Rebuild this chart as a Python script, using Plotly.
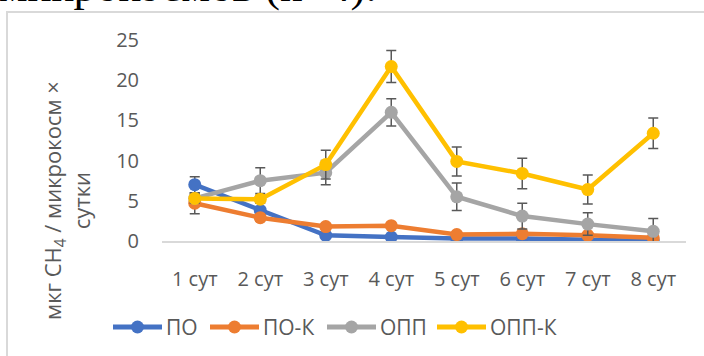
import plotly.graph_objects as go

# Days of observation
days = ["1 сут", "2 сут", "3 сут", "4 сут", "5 сут", "6 сут", "7 сут", "8 сут"]

# Methane emission, мкг CH4 / микрокосм × сутки (mean and error)
po = [7.0, 3.8, 0.7, 0.5, 0.3, 0.3, 0.2, 0.0]
po_err = [1.0, 0.4, 0.3, 0.2, 0.2, 0.2, 0.2, 0.2]

po_k = [4.7, 2.9, 1.8, 1.9, 0.8, 0.9, 0.7, 0.4]
po_k_err = [1.3, 0.4, 0.3, 0.3, 0.3, 0.3, 0.3, 0.3]

opp = [5.3, 7.5, 8.5, 16.0, 5.5, 3.1, 2.1, 1.2]
opp_err = [0.6, 1.6, 1.5, 1.7, 1.7, 1.6, 1.4, 1.6]

opp_k = [5.3, 5.2, 9.5, 21.7, 9.9, 8.4, 6.4, 13.4]
opp_k_err = [0.5, 0.5, 1.8, 2.0, 1.8, 1.9, 1.8, 1.9]

series_names = ["ПО", "ПО-К", "ОПП", "ОПП-К"]
series_values = [po, po_k, opp, opp_k]
series_errors = [po_err, po_k_err, opp_err, opp_k_err]
series_colors = ["#4472C4", "#ED7D31", "#A5A5A5", "#FFC000"]

FONT = "Open Sans"
GREY_TXT = "#595959"

W, H = 704, 356
ML, MR, MT, MB = 162, 18, 40, 115
PW, PH = W - ML - MR, H - MT - MB


def px_x(px):
    return (px - ML) / PW


def px_y(py):
    return (H - MB - py) / PH


fig = go.Figure()
for name, vals, err, color in zip(series_names, series_values,
                                  series_errors, series_colors):
    fig.add_trace(go.Scatter(
        x=days, y=vals, name=name, mode="lines+markers",
        line=dict(color=color, width=4.5),
        marker=dict(color=color, size=13),
        error_y=dict(type="data", array=err, visible=True,
                     color="#595959", thickness=1.5, width=5),
        showlegend=False,
    ))

# Legend row: long line sample with a round marker, then the series name
legend_starts = [113, 210, 327, 437]
legend_y = px_y(327)
shapes = [dict(
    type="rect", xref="paper", yref="paper", layer="below",
    x0=px_x(7), x1=px_x(720), y0=px_y(370), y1=px_y(12),
    line=dict(color="#d9d9d9", width=2), fillcolor="rgba(0,0,0,0)",
)]
annotations = []
for name, color, x0 in zip(series_names, series_colors, legend_starts):
    shapes.append(dict(type="line", xref="paper", yref="paper",
                       x0=px_x(x0), x1=px_x(x0 + 49), y0=legend_y, y1=legend_y,
                       line=dict(color=color, width=5)))
    cx = x0 + 24.5
    shapes.append(dict(type="circle", xref="paper", yref="paper",
                       x0=px_x(cx - 6.5), x1=px_x(cx + 6.5),
                       y0=px_y(327 + 6.5), y1=px_y(327 - 6.5),
                       fillcolor=color, line=dict(color=color, width=0)))
    annotations.append(dict(text=name, xref="paper", yref="paper",
                            x=px_x(x0 + 51), y=legend_y,
                            xanchor="left", yanchor="middle", showarrow=False,
                            font=dict(family=FONT, size=21, color=GREY_TXT)))

annotations += [
    dict(text="мкг CH<sub>4</sub> / микрокосм ×<br>сутки",
         xref="paper", yref="paper", x=px_x(66), y=px_y(201),
         xanchor="center", yanchor="middle", textangle=-90,
         showarrow=False,
         font=dict(family=FONT, size=22, color=GREY_TXT)),
    dict(text="микрокосмов (n=4).",
         xref="paper", yref="paper", x=px_x(-3), y=px_y(13),
         xanchor="left", yanchor="bottom", showarrow=False,
         font=dict(family="Liberation Serif", size=45, color="black")),
]

fig.update_layout(
    width=W, height=H,
    margin=dict(l=ML, r=MR, t=MT, b=MB),
    paper_bgcolor="white", plot_bgcolor="white",
    font=dict(family=FONT, size=20, color=GREY_TXT),
    showlegend=False,
    xaxis=dict(
        type="category", range=[-0.5, 7.5],
        showline=True, linecolor="#d9d9d9", linewidth=1.5,
        showgrid=False, zeroline=False,
        ticks="outside", ticklen=19, tickcolor="rgba(0,0,0,0)",
        tickfont=dict(family=FONT, size=20, color=GREY_TXT),
    ),
    yaxis=dict(
        range=[0, 25], dtick=5, tick0=0,
        showline=False, showgrid=False, zeroline=False,
        ticks="outside", ticklen=18, tickcolor="rgba(0,0,0,0)",
        tickfont=dict(family=FONT, size=20, color=GREY_TXT),
    ),
    shapes=shapes,
    annotations=annotations,
)

fig.write_html("out.html")
